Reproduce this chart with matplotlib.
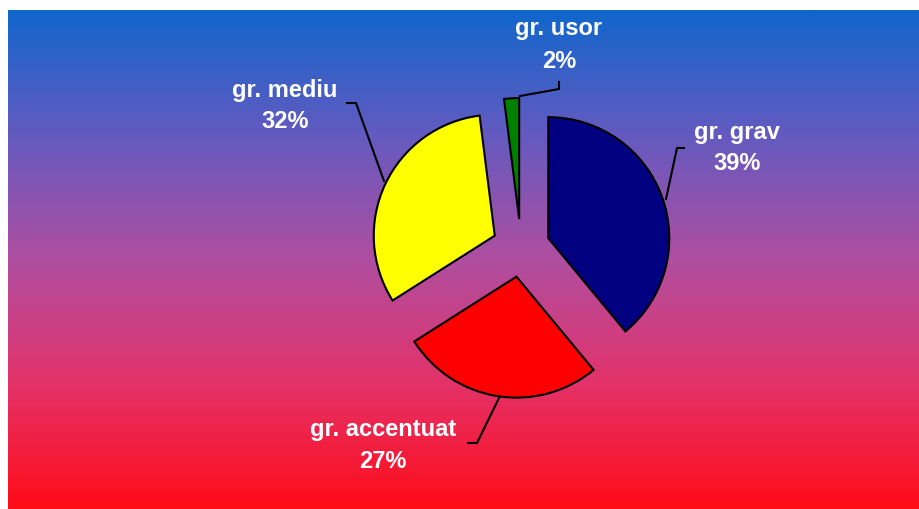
import numpy as np
import matplotlib
matplotlib.use("Agg")
import matplotlib.pyplot as plt
from matplotlib.colors import LinearSegmentedColormap

# data
labels = ["gr. grav", "gr. accentuat", "gr. mediu", "gr. usor"]
values = [39, 27, 32, 2]
colors = ["#000080", "#FF0000", "#FFFF00", "#008000"]

W, H = 919, 510
fig = plt.figure(figsize=(W / 100, H / 100), dpi=100)
fig.patch.set_facecolor("white")
ax = fig.add_axes([0, 0, 1, 1])

# background gradient (blue top -> red bottom)
bg = LinearSegmentedColormap.from_list("bg", [
    (0.00, (16/255, 102/255, 204/255)),
    (0.25, (100/255, 90/255, 192/255)),
    (0.50, (175/255, 78/255, 160/255)),
    (0.75, (228/255, 50/255, 105/255)),
    (1.00, (255/255, 12/255, 24/255)),
])
grad = np.linspace(0, 1, 256).reshape(-1, 1)
ax.imshow(grad, cmap=bg, aspect="auto", extent=[8, W, 0, H - 11],
          origin="upper", zorder=0)

# pie in pixel coordinates (y up); explode is in data units here
cx, cy, r = 521, H - 249, 121
wedges, _ = ax.pie(values, colors=colors, startangle=90, counterclock=False,
                   explode=[29] * 4, center=(cx, cy), radius=r,
                   wedgeprops=dict(edgecolor="black", linewidth=1.5))
for w in wedges:
    w.set_zorder(2)

# leader lines and labels
leaders = [
    [(666, 200), (677, 149), (684, 149)],
    [(499, 399), (477, 444), (468, 444)],
    [(384, 182), (356, 104), (347, 104)],
    [(520, 97), (559, 90), (559, 83)],
]
label_pos = [(737, 148), (383, 446), (285, 106), (559, 45)]

for pts, (lx, ly), lab, v in zip(leaders, label_pos, labels, values):
    xs = [p[0] for p in pts]
    ys = [H - p[1] for p in pts]
    ax.plot(xs, ys, color="black", lw=1.5, zorder=3)
    ax.text(lx, H - ly, f"{lab}\n{v}%", color="white", fontsize=17,
            fontweight="bold", family="Liberation Sans", ha="center",
            va="center", linespacing=1.5, zorder=4)

ax.set_xlim(0, W)
ax.set_ylim(0, H)
ax.set_aspect("auto")
ax.axis("off")

fig.savefig("out.png", dpi=100)
